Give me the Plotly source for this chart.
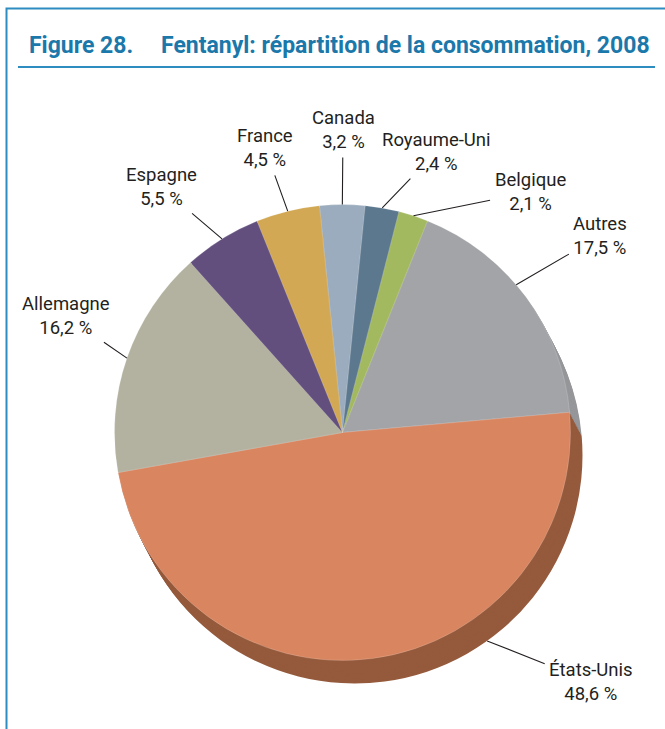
import math
import plotly.graph_objects as go

# ---- data ----
countries = ["Canada", "Royaume-Uni", "Belgique", "Autres", "États-Unis",
             "Allemagne", "Espagne", "France"]
shares = [3.2, 2.4, 2.1, 17.5, 48.6, 16.2, 5.5, 4.5]
share_labels = ["3,2 %", "2,4 %", "2,1 %", "17,5 %", "48,6 %", "16,2 %", "5,5 %", "4,5 %"]

# ---- styles ----
top_colors = ["#9aacbd", "#5c788e", "#a3b95f", "#a3a4a7", "#d88560",
              "#b3b2a0", "#624f7e", "#d2a855"]
side_colors = ["#7c8a97", "#4a6072", "#83954c", "#96979a", "#955a3c",
               "#908f80", "#4f4065", "#a98744"]

W, H = 665, 729
CX, CY, R = 342.5, 432.5, 228.0       # pie face centre / radius in px
DX, DY = 12.0, 23.0                    # extrusion offset in px
ROT = -5.8                             # start angle of first slice (deg)
FONT = "Roboto, Liberation Sans, sans-serif"

# label block centres (px) and where along the slice the leader points
label_pos = [(343, 130), (436, 152), (530, 192), (600, 236), (591, 682),
             (66, 316), (161, 187), (265, 148)]
anchor_frac = [0.5, 0.5, 0.5, 0.44, 0.34, 0.5, 0.5, 0.5]
anchor_side = [False, False, False, False, True, False, False, False]


def dom(cx, cy):
    return dict(x=[(cx - R) / W, (cx + R) / W],
                y=[1 - (cy + R) / H, 1 - (cy - R) / H])


fig = go.Figure()

# extruded side: stacked pies shifted down-right
N = 14
for k in range(N, 0, -1):
    f = k / N
    fig.add_trace(go.Pie(
        labels=countries, values=shares, sort=False, direction="clockwise",
        rotation=ROT, textinfo="none", hoverinfo="skip", showlegend=False,
        marker=dict(colors=side_colors, line=dict(width=0)),
        domain=dom(CX + DX * f, CY + DY * f)))

# top face
fig.add_trace(go.Pie(
    labels=countries, values=shares, sort=False, direction="clockwise",
    rotation=ROT, textinfo="none", showlegend=False,
    marker=dict(colors=top_colors, line=dict(width=0.5, color="rgba(255,255,255,0.35)")),
    domain=dom(CX, CY)))

# labels with leader lines computed from slice geometry
total = sum(shares)
cum = 0.0
for i, (name, v) in enumerate(zip(countries, shares)):
    a = ROT + (cum + v * anchor_frac[i]) / total * 360.0
    cum += v
    px = CX + R * math.sin(math.radians(a))
    py = CY - R * math.cos(math.radians(a))
    if anchor_side[i]:
        px += DX
        py += DY
    lx, ly = label_pos[i]
    fig.add_annotation(
        x=px / W, y=1 - py / H, xref="paper", yref="paper",
        ax=lx - px, ay=ly - py, axref="pixel", ayref="pixel",
        text=f"{name}<br>{share_labels[i]}", showarrow=True,
        arrowhead=0, arrowwidth=1.1, arrowcolor="#231f20", startstandoff=3,
        font=dict(family=FONT, size=18.5, color="#231f20"), align="center")

# title (two pieces for the wide gap)
title_font = dict(family=FONT, size=23, color="#1b78aa", weight="bold")
fig.add_annotation(
    x=27 / W, y=1 - 45 / H, xref="paper", yref="paper", xanchor="left",
    yanchor="middle", showarrow=False, text="Figure 28.", font=title_font)
fig.add_annotation(
    x=652 / W, y=1 - 45 / H, xref="paper", yref="paper", xanchor="right",
    yanchor="middle", showarrow=False,
    text="Fentanyl: répartition de la consommation, 2008", font=title_font)

# frame and title rule
fig.add_shape(type="rect", xref="paper", yref="paper",
              x0=6.5 / W, x1=1.2, y0=-0.2, y1=1 - 8.5 / H,
              line=dict(color="#2e8dc0", width=2))
fig.add_shape(type="line", xref="paper", yref="paper",
              x0=18 / W, x1=655 / W, y0=1 - 67 / H, y1=1 - 67 / H,
              line=dict(color="#2e8dc0", width=2))

fig.update_layout(width=W, height=H, margin=dict(l=0, r=0, t=0, b=0),
                  paper_bgcolor="white", plot_bgcolor="white")
fig.write_html("out.html", config={"displayModeBar": False},
               post_script="document.body.style.margin='0px';")
